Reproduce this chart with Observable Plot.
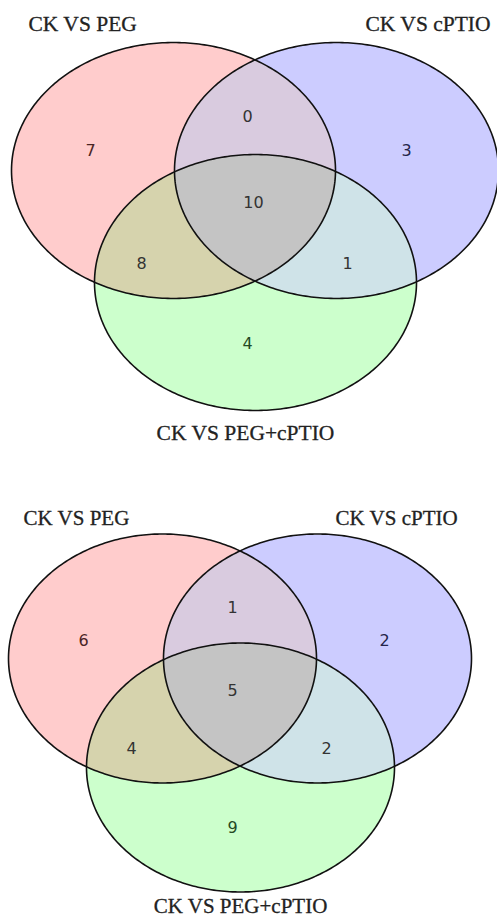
<!DOCTYPE html>
<html>
<head>
<meta charset="utf-8">
<script src="https://cdn.jsdelivr.net/npm/d3@7"></script>
<script src="https://cdn.jsdelivr.net/npm/@observablehq/plot@0.6"></script>
<style>
  body { margin: 0; background: #fff; }
  #chart svg { display: block; }
</style>
</head>
<body>
<div id="chart"></div>
<script>
// ---- data ----
const setNames = ["CK VS PEG", "CK VS cPTIO", "CK VS PEG+cPTIO"];
// region codes: membership in (PEG, cPTIO, PEG+cPTIO)
const regions = ["100", "010", "001", "110", "101", "011", "111"];
const countsTop = [7, 3, 4, 0, 8, 1, 10];
const countsBottom = [6, 2, 9, 1, 4, 2, 5];

// ---- styles ----
const regionColors = {
  "100": "#ffcccc", "010": "#ccccff", "001": "#ccffcc",
  "110": "#d9cbdf", "101": "#d6d3ad", "011": "#cfe3e8", "111": "#c4c4c4"
};
const labelColors = {
  "100": "#4a2424", "010": "#24244a", "001": "#244a24",
  "110": "#333", "101": "#333", "011": "#333", "111": "#333"
};

// ---- layout (per diagram) ----
const layouts = [
  {
    height: 460, counts: countsTop,
    ellipses: [
      {cx: 173, cy: 170, rx: 162, ry: 128},
      {cx: 336, cy: 170, rx: 162, ry: 128},
      {cx: 255, cy: 282, rx: 161, ry: 128}
    ],
    labelPos: {"100": [90, 150], "010": [406, 150], "001": [247, 343], "110": [247, 116], "101": [141, 263], "011": [347, 263], "111": [253, 202]},
    titles: [[28, 24, "start"], [365, 24, "start"], [245, 433, "middle"]],
    titleSize: 21.5
  },
  {
    height: 459, counts: countsBottom,
    ellipses: [
      {cx: 162, cy: 198, rx: 154, ry: 124.5},
      {cx: 317, cy: 198, rx: 154, ry: 124.5},
      {cx: 240, cy: 307, rx: 154, ry: 124.5}
    ],
    labelPos: {"100": [83, 180], "010": [384, 180], "001": [232, 367], "110": [232, 147], "101": [131, 288], "011": [326, 288], "111": [232, 230]},
    titles: [[23, 58, "start"], [335, 58, "start"], [240, 446, "middle"]],
    titleSize: 21
  }
];

const W = 497;
const container = document.getElementById("chart");

for (const L of layouts) {
  const inside = (e, x, y) => ((x - e.cx) / e.rx) ** 2 + ((y - e.cy) / e.ry) ** 2 <= 1;
  const regionAt = (x, y) => {
    const code = L.ellipses.map(e => inside(e, x, y) ? "1" : "0").join("");
    return code === "000" ? null : regionColors[code];
  };

  // outlines
  const outline = [];
  L.ellipses.forEach((e, k) => {
    for (let i = 0; i <= 360; i++) {
      const t = (i / 360) * 2 * Math.PI;
      outline.push({set: setNames[k], x: e.cx + e.rx * Math.cos(t), y: e.cy + e.ry * Math.sin(t)});
    }
  });

  const labels = regions.map((r, i) => ({
    region: r, value: L.counts[i], x: L.labelPos[r][0], y: L.labelPos[r][1]
  }));

  const titles = setNames.map((name, k) => ({
    name, x: L.titles[k][0], y: L.titles[k][1], anchor: L.titles[k][2]
  }));

  const plot = Plot.plot({
    width: W,
    height: L.height,
    margin: 0,
    x: {domain: [0, W], axis: null},
    y: {domain: [0, L.height], reverse: true, axis: null},
    color: {type: "identity"},
    marks: [
      Plot.raster({
        fill: regionAt,
        x1: 0, x2: W, y1: 0, y2: L.height,
        pixelSize: 1
      }),
      Plot.line(outline, {x: "x", y: "y", z: "set", stroke: "#111", strokeWidth: 1.6}),
      Plot.text(labels, {
        x: "x", y: "y", text: d => String(d.value),
        fill: d => labelColors[d.region],
        fontFamily: "DejaVu Sans", fontSize: 16
      }),
      Plot.text(titles.filter(t => t.anchor === "start"), {
        x: "x", y: "y", text: "name", textAnchor: "start",
        fontFamily: "Liberation Serif", fontSize: L.titleSize, fill: "#222",
        stroke: "#222", strokeWidth: 0.3
      }),
      Plot.text(titles.filter(t => t.anchor === "middle"), {
        x: "x", y: "y", text: "name", textAnchor: "middle",
        fontFamily: "Liberation Serif", fontSize: L.titleSize, fill: "#222",
        stroke: "#222", strokeWidth: 0.3
      })
    ]
  });
  container.appendChild(plot);
}
</script>
</body>
</html>
